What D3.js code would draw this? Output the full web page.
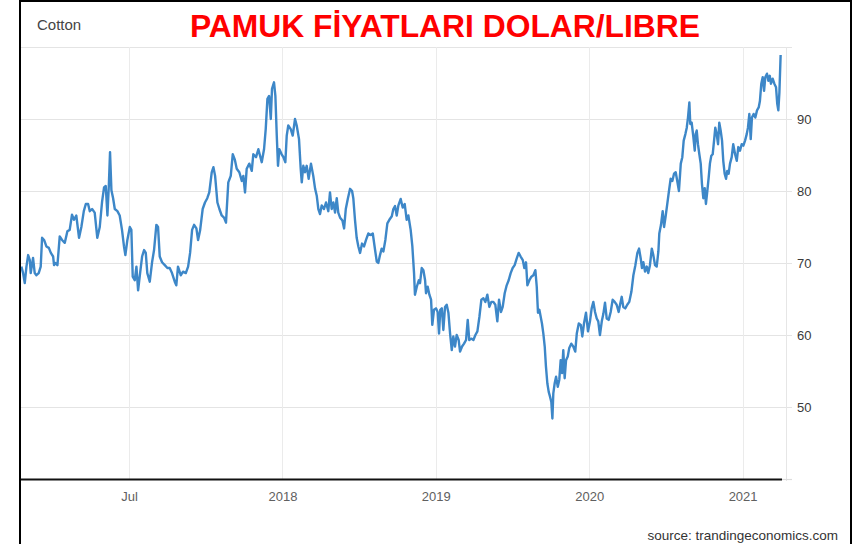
<!DOCTYPE html>
<html>
<head>
<meta charset="utf-8">
<script src="https://cdn.jsdelivr.net/npm/d3@7"></script>
<style>
  html, body { margin: 0; padding: 0; background: #fff; }
  svg { display: block; font-family: "Liberation Sans", Arial, sans-serif; }
</style>
</head>
<body>
<svg id="chart" width="864" height="544"></svg>
<script>
// ---- data (decimal year, price in US cents / lb) ----
const years = [
  2016.298, 2016.309, 2016.320, 2016.331, 2016.342, 2016.353, 2016.359, 2016.374, 2016.385, 2016.396,
  2016.411, 2016.424, 2016.433, 2016.446, 2016.461, 2016.477, 2016.490, 2016.505, 2016.511, 2016.520,
  2016.533, 2016.548, 2016.563, 2016.581, 2016.598, 2016.613, 2016.628, 2016.641, 2016.656, 2016.674,
  2016.689, 2016.705, 2016.718, 2016.733, 2016.744, 2016.759, 2016.776, 2016.793, 2016.809, 2016.824,
  2016.837, 2016.848, 2016.859, 2016.868, 2016.876, 2016.885, 2016.896, 2016.907, 2016.924, 2016.939,
  2016.954, 2016.967, 2016.976, 2016.989,
  2017.005, 2017.015, 2017.024, 2017.037, 2017.048, 2017.059, 2017.072, 2017.085, 2017.098, 2017.109,
  2017.119, 2017.135, 2017.150, 2017.163, 2017.178, 2017.189, 2017.200, 2017.215, 2017.233, 2017.250,
  2017.265, 2017.280, 2017.298, 2017.308, 2017.319, 2017.337, 2017.352, 2017.370, 2017.385, 2017.398,
  2017.411, 2017.424, 2017.439, 2017.450, 2017.463, 2017.480, 2017.495, 2017.510, 2017.523, 2017.539,
  2017.550, 2017.561, 2017.576, 2017.589, 2017.604, 2017.619, 2017.632, 2017.647, 2017.663, 2017.676,
  2017.689, 2017.702, 2017.719, 2017.735, 2017.745, 2017.756, 2017.767, 2017.784, 2017.800, 2017.810,
  2017.828, 2017.843, 2017.854, 2017.865, 2017.880, 2017.891, 2017.902, 2017.913, 2017.924, 2017.932,
  2017.945, 2017.954, 2017.963, 2017.971, 2017.980, 2017.995,
  2018.006, 2018.019, 2018.028, 2018.038, 2018.054, 2018.067, 2018.082, 2018.093, 2018.108, 2018.119,
  2018.126, 2018.136, 2018.147, 2018.158, 2018.171, 2018.186, 2018.201, 2018.213, 2018.224, 2018.234,
  2018.245, 2018.256, 2018.271, 2018.284, 2018.299, 2018.310, 2018.321, 2018.332, 2018.343, 2018.354,
  2018.364, 2018.376, 2018.391, 2018.402, 2018.413, 2018.426, 2018.441, 2018.454, 2018.462, 2018.473,
  2018.484, 2018.495, 2018.506, 2018.519, 2018.532, 2018.545, 2018.560, 2018.576, 2018.589, 2018.604,
  2018.615, 2018.625, 2018.636, 2018.647, 2018.658, 2018.671, 2018.684, 2018.697, 2018.713, 2018.723,
  2018.734, 2018.745, 2018.756, 2018.771, 2018.784, 2018.797, 2018.810, 2018.821, 2018.836, 2018.847,
  2018.858, 2018.864, 2018.876, 2018.889, 2018.897, 2018.908, 2018.919, 2018.930, 2018.936, 2018.947,
  2018.958, 2018.969, 2018.977, 2018.988,
  2019.001, 2019.012, 2019.021, 2019.029, 2019.039, 2019.049, 2019.060, 2019.071, 2019.082, 2019.093,
  2019.104, 2019.114, 2019.125, 2019.136, 2019.149, 2019.158, 2019.171, 2019.184, 2019.197, 2019.208,
  2019.218, 2019.231, 2019.245, 2019.258, 2019.271, 2019.284, 2019.297, 2019.310, 2019.323, 2019.336,
  2019.349, 2019.362, 2019.375, 2019.388, 2019.401, 2019.412, 2019.425, 2019.436, 2019.449, 2019.462,
  2019.475, 2019.488, 2019.501, 2019.514, 2019.527, 2019.540, 2019.553, 2019.567, 2019.577, 2019.588,
  2019.597, 2019.610, 2019.623, 2019.636, 2019.649, 2019.658, 2019.666, 2019.675, 2019.684, 2019.692,
  2019.701, 2019.710, 2019.718, 2019.727, 2019.736, 2019.745, 2019.753, 2019.760, 2019.766, 2019.775,
  2019.784, 2019.795, 2019.805, 2019.814, 2019.823, 2019.831, 2019.840, 2019.849, 2019.860, 2019.870,
  2019.883, 2019.896, 2019.909, 2019.919, 2019.932, 2019.945, 2019.955, 2019.966, 2019.979, 2019.992,
  2020.005, 2020.016, 2020.027, 2020.038, 2020.049, 2020.059, 2020.070, 2020.082, 2020.092, 2020.103,
  2020.114, 2020.127, 2020.140, 2020.153, 2020.166, 2020.179, 2020.192, 2020.201, 2020.212, 2020.222,
  2020.235, 2020.248, 2020.261, 2020.275, 2020.288, 2020.301, 2020.314, 2020.325, 2020.336, 2020.344,
  2020.353, 2020.364, 2020.375, 2020.385, 2020.396, 2020.408, 2020.418, 2020.429, 2020.440, 2020.451,
  2020.457, 2020.468, 2020.479, 2020.488, 2020.499, 2020.509, 2020.520, 2020.531, 2020.542, 2020.553,
  2020.564, 2020.574, 2020.585, 2020.597, 2020.607, 2020.616, 2020.627, 2020.636, 2020.644, 2020.653,
  2020.659, 2020.668, 2020.679, 2020.688, 2020.694, 2020.701, 2020.709, 2020.718, 2020.727, 2020.735,
  2020.744, 2020.753, 2020.761, 2020.770, 2020.779, 2020.787, 2020.796, 2020.805, 2020.814, 2020.822,
  2020.831, 2020.840, 2020.848, 2020.857, 2020.866, 2020.874, 2020.883, 2020.892, 2020.900, 2020.909,
  2020.918, 2020.929, 2020.939, 2020.951, 2020.962, 2020.972, 2020.983, 2020.994,
  2021.005, 2021.016, 2021.027, 2021.035, 2021.044, 2021.053, 2021.061, 2021.072, 2021.083, 2021.094,
  2021.105, 2021.113, 2021.122, 2021.131, 2021.140, 2021.148, 2021.159, 2021.168, 2021.177, 2021.185,
  2021.196, 2021.207, 2021.218, 2021.226, 2021.233, 2021.240, 2021.248
];
const prices = [
  69.5, 68.6, 67.2, 69.5, 71.1, 70.4, 68.6, 70.7, 68.6, 68.3,
  68.6, 69.5, 73.5, 73.2, 72.3, 72.1, 71.4, 70.9, 69.7, 70.0,
  69.7, 73.7, 73.2, 72.8, 74.4, 74.6, 76.7, 76.0, 76.6, 73.5,
  75.0, 77.2, 78.2, 78.2, 77.2, 77.5, 77.0, 73.5, 75.0, 78.5,
  80.5, 80.7, 76.6, 80.7, 85.4, 80.1, 79.0, 77.5, 77.2, 76.6,
  74.6, 72.3, 71.1, 73.2,
  75.0, 74.6, 68.1, 67.6, 69.5, 66.2, 68.6, 70.9, 71.8, 71.4,
  68.6, 67.4, 70.1, 71.8, 75.3, 75.0, 70.9, 70.1, 69.7, 69.3,
  69.3, 68.6, 67.4, 66.9, 69.5, 68.3, 68.8, 68.6, 69.5, 71.4,
  74.6, 75.3, 74.8, 73.2, 74.5, 77.5, 78.4, 79.0, 79.8, 82.6,
  83.3, 82.1, 78.4, 77.5, 76.6, 76.3, 75.6, 81.2, 82.1, 85.1,
  84.4, 83.1, 82.6, 81.4, 82.1, 79.8, 83.1, 83.8, 82.8, 85.1,
  84.7, 85.8, 84.9, 84.0, 85.8, 88.6, 92.8, 93.2, 90.0, 94.2,
  95.1, 93.2, 87.7, 83.5, 85.8, 85.1,
  84.7, 84.0, 87.7, 89.1, 88.6, 87.7, 90.0, 89.1, 87.2, 83.1,
  81.2, 83.5, 82.6, 83.5, 81.7, 83.8, 82.1, 80.3, 79.3, 77.5,
  76.8, 78.0, 77.5, 78.4, 77.2, 79.8, 77.5, 78.4, 77.0, 79.0,
  77.0, 76.3, 75.9, 74.8, 77.5, 78.9, 80.3, 80.0, 79.0, 76.0,
  73.5, 72.3, 71.4, 72.7, 72.3, 73.2, 74.1, 73.9, 74.1, 71.8,
  70.2, 70.0, 71.1, 72.0, 71.6, 73.2, 75.5, 76.0, 76.5, 77.5,
  77.9, 76.6, 78.0, 78.9, 77.7, 78.2, 76.0, 76.6, 74.6, 72.3,
  68.6, 65.6, 66.7, 67.6, 67.2, 69.3, 69.0, 67.6, 65.8, 66.7,
  65.6, 64.9, 61.4, 63.5,
  63.7, 63.2, 60.2, 63.5, 63.7, 60.7, 63.9, 64.2, 63.1, 60.2,
  57.9, 59.8, 58.4, 60.0, 59.3, 57.7, 58.4, 58.8, 59.3, 62.1,
  59.3, 59.5, 59.3, 60.0, 60.5, 62.5, 64.9, 65.1, 64.6, 65.6,
  63.9, 64.6, 64.6, 64.2, 61.9, 64.9, 63.2, 63.9, 65.8, 66.9,
  67.6, 68.6, 69.3, 69.7, 70.6, 71.4, 70.9, 70.4, 69.3, 70.1,
  66.9, 67.6, 68.1, 68.3, 69.0, 66.7, 63.1, 63.5, 62.5, 61.6,
  60.2, 58.4, 55.6, 53.3, 52.1, 51.4, 50.7, 48.4, 51.9, 53.3,
  54.2, 52.8, 53.8, 56.5, 54.7, 57.9, 54.0, 56.5, 57.0, 58.2,
  58.8, 58.4, 57.7, 60.2, 61.6, 61.4, 59.8, 61.6, 63.1, 60.5,
  61.9, 63.7, 64.6, 63.2, 62.3, 61.9, 60.0, 61.9, 62.9, 64.5,
  62.3, 62.1, 63.2, 64.9, 64.6, 64.2, 63.2, 64.2, 65.3, 63.9,
  63.7, 64.2, 64.6, 66.0, 68.3, 69.7, 71.4, 72.0, 70.6, 69.3,
  70.1, 68.8, 69.5, 68.6, 69.7, 72.0, 71.1, 69.7, 69.5, 71.6,
  74.1, 75.3, 77.2, 75.0, 76.6, 78.2, 80.0, 81.7, 81.4, 82.4,
  82.6, 81.4, 80.0, 83.8, 84.7, 87.0, 87.9, 88.8, 90.2, 92.3,
  89.3, 89.5, 87.5, 85.6, 87.9, 88.4, 86.5, 85.1, 83.8, 81.0,
  79.0, 80.4, 78.2, 80.0, 81.9, 83.8, 84.9, 85.1, 87.0, 88.8,
  87.9, 86.5, 89.5, 88.4, 87.0, 84.2, 82.4, 81.7, 82.8, 82.4,
  83.8, 84.7, 86.5, 85.1, 84.2, 86.1, 85.6, 86.5,
  86.3, 87.0, 87.9, 88.8, 90.7, 87.2, 90.2, 90.7, 90.2, 91.2,
  91.6, 92.5, 94.9, 95.8, 93.9, 95.8, 96.3, 95.3, 96.0, 94.9,
  95.6, 94.9, 94.4, 92.1, 91.2, 93.7, 98.9
];
const xTickValues = [2017, 2018, 2019, 2020, 2021];
const xTickLabels = ["Jul", "2018", "2019", "2020", "2021"];
const yTickValues = [50, 60, 70, 80, 90];
const yGridValues = [50, 60, 70, 80, 90, 100];
const seriesName = "Cotton";
const titleText = "PAMUK FİYATLARI DOLAR/LIBRE";
const sourceText = "source: trandingeconomics.com";

(function () {
  // ---- layout ----
  const pL = 20, pR = 786, pT = 47, pB = 479;
  const svg = d3.select("#chart");

  const x = d3.scaleLinear().domain([2016.289, 2021.283]).range([pL, pR]);
  const y = d3.scaleLinear().domain([40, 100]).range([pB, pT]);

  // grid
  const grid = svg.append("g");
  grid.selectAll("line.h").data(yGridValues).join("line")
    .attr("x1", pL).attr("x2", pR + 6)
    .attr("y1", d => Math.round(y(d)) + 0.5).attr("y2", d => Math.round(y(d)) + 0.5)
    .attr("stroke", "#e4e4e4").attr("stroke-width", 1);
  grid.selectAll("line.v").data(xTickValues).join("line")
    .attr("x1", d => Math.round(x(d)) + 0.5).attr("x2", d => Math.round(x(d)) + 0.5)
    .attr("y1", pT).attr("y2", pB)
    .attr("stroke", "#ebebeb").attr("stroke-width", 1);
  grid.append("line")
    .attr("x1", pR + 0.5).attr("x2", pR + 0.5)
    .attr("y1", pT).attr("y2", pB + 2)
    .attr("stroke", "#e6e6e6");

  // y axis (right)
  const yAxis = svg.append("g")
    .attr("transform", `translate(${pR + 6},0)`)
    .call(d3.axisRight(y).tickValues(yTickValues).tickSize(0).tickPadding(5));
  yAxis.select(".domain").remove();
  yAxis.selectAll("text").attr("fill", "#3a3a3a")
    .style("font-size", "13px").style("font-family", "'Liberation Sans', Arial, sans-serif");

  // x axis
  const xAxis = svg.append("g")
    .attr("transform", `translate(0,${pB})`)
    .call(d3.axisBottom(x).tickValues(xTickValues)
      .tickFormat((d, i) => xTickLabels[i]).tickSize(0).tickPadding(13));
  xAxis.select(".domain").remove();
  xAxis.selectAll("text").attr("fill", "#606060")
    .style("font-size", "13px").style("font-family", "'Liberation Sans', Arial, sans-serif");

  svg.append("line")
    .attr("x1", pL).attr("x2", pR - 4)
    .attr("y1", pB + 0.5).attr("y2", pB + 0.5)
    .attr("stroke", "#111").attr("stroke-width", 1.8);
  svg.append("line")
    .attr("x1", pR - 4).attr("x2", pR + 6)
    .attr("y1", pB + 0.5).attr("y2", pB + 0.5)
    .attr("stroke", "#dcdcdc").attr("stroke-width", 1.2);

  // line
  svg.append("defs").append("clipPath").attr("id", "plotClip")
    .append("rect").attr("x", pL).attr("y", pT - 5)
    .attr("width", pR - pL).attr("height", pB - pT + 5);

  const points = d3.zip(years, prices);
  const line = d3.line().x(d => x(d[0])).y(d => y(d[1]));
  svg.append("path")
    .datum(points)
    .attr("clip-path", "url(#plotClip)")
    .attr("fill", "none")
    .attr("stroke", "#3d87c8")
    .attr("stroke-width", 2.4)
    .attr("stroke-linejoin", "round")
    .attr("d", line);

  // texts
  svg.append("text")
    .attr("x", 37).attr("y", 30)
    .attr("fill", "#444").style("font-size", "15px")
    .text(seriesName);

  svg.append("text")
    .attr("x", 445).attr("y", 37)
    .attr("text-anchor", "middle")
    .attr("fill", "#ff0000")
    .style("font-size", "32px").style("font-weight", "bold")
    .attr("textLength", 510).attr("lengthAdjust", "spacingAndGlyphs")
    .text(titleText);

  svg.append("text")
    .attr("x", 838).attr("y", 540)
    .attr("text-anchor", "end")
    .attr("fill", "#333").style("font-size", "13.5px")
    .text(sourceText);

  // frame
  svg.append("line").attr("x1", 20).attr("x2", 20).attr("y1", 0).attr("y2", 544)
    .attr("stroke", "#000").attr("stroke-width", 2);
  svg.append("line").attr("x1", 851).attr("x2", 851).attr("y1", 0).attr("y2", 544)
    .attr("stroke", "#000").attr("stroke-width", 2);
  svg.append("line").attr("x1", 19).attr("x2", 852).attr("y1", 1).attr("y2", 1)
    .attr("stroke", "#000").attr("stroke-width", 2);
})();
</script>
</body>
</html>
